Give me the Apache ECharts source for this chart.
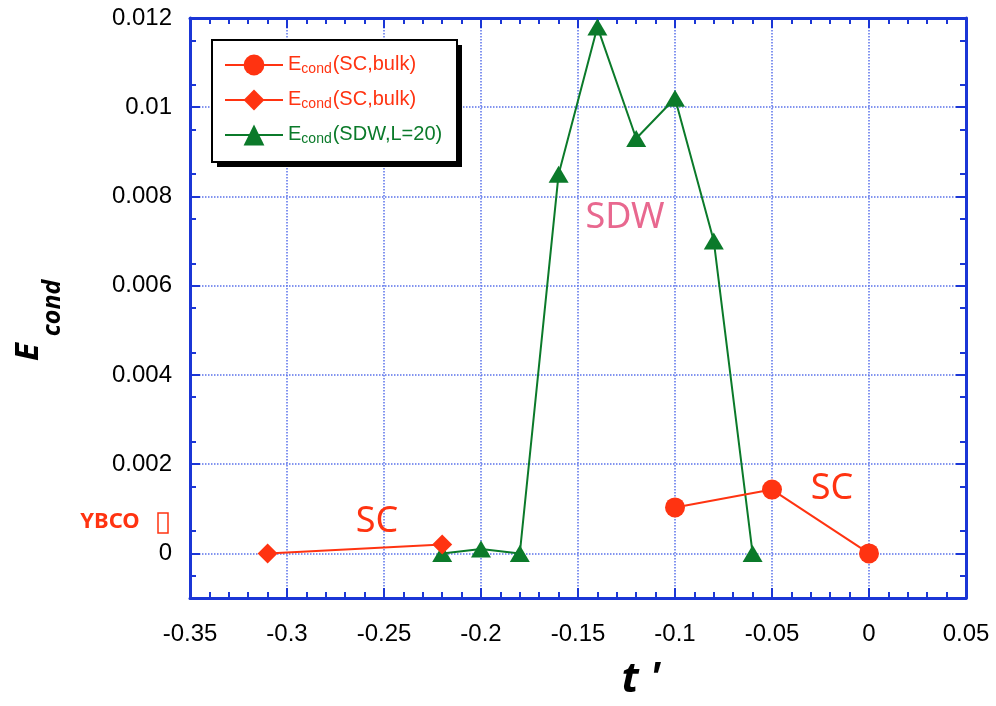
<!DOCTYPE html>
<html>
<head>
<meta charset="utf-8">
<title>Econd vs t'</title>
<script src="https://cdn.jsdelivr.net/npm/echarts@6/dist/echarts.min.js"></script>
<style>
  html, body { margin: 0; padding: 0; background: #fff; }
  #chart { width: 996px; height: 706px; }
</style>
</head>
<body>
<div id="chart"></div>
<script>
// data
const scCircleX = [-0.1, -0.05, 0]
const scCircleY = [0.00103, 0.00143, 0]
const scDiamondX = [-0.31, -0.22]
const scDiamondY = [0, 0.0002]
const sdwX = [-0.22, -0.2, -0.18, -0.16, -0.14, -0.12, -0.1, -0.08, -0.06]
const sdwY = [0, 0.0001, 0, 0.0085, 0.0118, 0.0093, 0.0102, 0.007, 0]
const yTickValues = [0, 0.002, 0.004, 0.006, 0.008, 0.01, 0.012]
const legendNames = ['sc1', 'sc2', 'sdw']
const legendLabels = ['(SC,bulk)', '(SC,bulk)', '(SDW,L=20)']

const RED = '#ff3311'
const GREEN = '#0b7a2a'
const BLUE = '#1b36d6'
const GRID = '#5a72ea'
const FONT = 'Liberation Sans'

const zip = (xs, ys) => xs.map((x, i) => [x, ys[i]])

const fmtX = (v) => {
  const r = Math.round(v * 100) / 100
  return r === 0 ? '0' : String(r)
}
const fmtY = (v) => {
  const r = Math.round(v * 1000) / 1000
  return r === 0 ? '0' : String(r)
}

const baseX = {
  type: 'value',
  min: -0.35,
  max: 0.05,
  interval: 0.05,
  axisLine: { onZero: false, lineStyle: { color: BLUE, width: 3 } },
  axisTick: { inside: true, length: 10, lineStyle: { color: BLUE, width: 2 } },
  minorTick: { show: true, splitNumber: 5, length: 6, lineStyle: { color: BLUE, width: 2 } }
}

const baseY = {
  type: 'value',
  min: -0.001,
  max: 0.012,
  interval: 0.001,
  axisLine: { onZero: false, lineStyle: { color: BLUE, width: 3 } },
  axisTick: { inside: true, length: 10, customValues: yTickValues, lineStyle: { color: BLUE, width: 2 } },
  minorTick: { show: true, splitNumber: 2, length: 6, lineStyle: { color: BLUE, width: 2 } }
}

const titleFont = { fontFamily: 'Noto Sans', fontStyle: 'italic', fontWeight: 'bold', fill: '#000', align: 'center', verticalAlign: 'middle' }

const chart = echarts.init(document.getElementById('chart'))

const option = {
  animation: false,
  backgroundColor: '#fff',
  grid: { left: 190, right: 30, top: 18, bottom: 108 },
  xAxis: [
    {
      ...baseX,
      position: 'bottom',
      axisLabel: { color: '#000', fontFamily: FONT, fontSize: 24, margin: 24, formatter: fmtX },
      splitLine: { show: true, lineStyle: { color: GRID, type: 'dotted', width: 1.5 } }
    },
    {
      ...baseX,
      position: 'top',
      axisLabel: { show: false },
      splitLine: { show: false }
    }
  ],
  yAxis: [
    {
      ...baseY,
      position: 'left',
      axisLabel: { color: '#000', fontFamily: FONT, fontSize: 24, margin: 18, customValues: yTickValues, formatter: fmtY },
      splitLine: { show: true, lineStyle: { color: GRID, type: 'dotted', width: 1.5 } }
    },
    {
      ...baseY,
      position: 'right',
      axisLabel: { show: false },
      splitLine: { show: false }
    }
  ],
  legend: {
    orient: 'vertical',
    left: 219,
    top: 42,
    itemWidth: 58,
    itemHeight: 26,
    itemGap: 6,
    data: legendNames.map((n, i) => ({
      name: n,
      textStyle: { color: i < 2 ? RED : GREEN }
    })),
    formatter: (name) => '{e|E}{s|cond}{t|' + legendLabels[legendNames.indexOf(name)] + '}',
    textStyle: {
      fontFamily: FONT,
      fontSize: 20,
      rich: {
        e: { fontFamily: FONT, fontSize: 20, lineHeight: 22, verticalAlign: 'top' },
        s: { fontFamily: FONT, fontSize: 14, lineHeight: 14, verticalAlign: 'bottom', padding: [15, 1, 0, 0] },
        t: { fontFamily: FONT, fontSize: 20, lineHeight: 22, verticalAlign: 'top' }
      }
    }
  },
  graphic: [
    { type: 'rect', z: 3, shape: { x: 217, y: 45, width: 245, height: 122 }, style: { fill: '#000' } },
    { type: 'rect', z: 3, shape: { x: 212, y: 40, width: 245, height: 122 }, style: { fill: '#fff', stroke: '#000', lineWidth: 2 } },
    { type: 'text', z: 5, x: 625, y: 218, style: { text: 'SDW', fill: '#e8688f', fontFamily: 'Noto Sans', fontSize: 36, align: 'center', verticalAlign: 'middle' } },
    { type: 'text', z: 5, x: 377, y: 522, style: { text: 'SC', fill: RED, fontFamily: 'Noto Sans', fontSize: 36, align: 'center', verticalAlign: 'middle' } },
    { type: 'text', z: 5, x: 832, y: 489, style: { text: 'SC', fill: RED, fontFamily: 'Noto Sans', fontSize: 36, align: 'center', verticalAlign: 'middle' } },
    { type: 'text', z: 5, x: 110, y: 522, style: { text: 'YBCO', fill: RED, fontFamily: 'Noto Sans', fontWeight: 'bold', fontSize: 22, align: 'center', verticalAlign: 'middle' } },
    { type: 'rect', z: 5, shape: { x: 158, y: 513, width: 10, height: 20 }, style: { fill: 'none', stroke: RED, lineWidth: 1.5 } },
    { type: 'text', z: 5, x: 641, y: 680, style: { ...titleFont, text: "t '", fontSize: 42 } },
    { type: 'text', z: 5, x: 29, y: 352, rotation: Math.PI / 2, style: { ...titleFont, text: 'E', fontSize: 33 } },
    { type: 'text', z: 5, x: 53, y: 308, rotation: Math.PI / 2, style: { ...titleFont, text: 'cond', fontSize: 25 } }
  ],
  series: [
    {
      name: 'sc1',
      type: 'line',
      data: zip(scCircleX, scCircleY),
      symbol: 'circle',
      symbolSize: 20,
      lineStyle: { color: RED, width: 2 },
      itemStyle: { color: RED },
      z: 4
    },
    {
      name: 'sc2',
      type: 'line',
      data: zip(scDiamondX, scDiamondY),
      symbol: 'diamond',
      symbolSize: 20,
      lineStyle: { color: RED, width: 2 },
      itemStyle: { color: RED },
      z: 4
    },
    {
      name: 'sdw',
      type: 'line',
      data: zip(sdwX, sdwY),
      symbol: 'triangle',
      symbolSize: [20, 17],
      lineStyle: { color: GREEN, width: 2 },
      itemStyle: { color: GREEN },
      z: 3
    }
  ]
}

chart.setOption(option)
window.addEventListener('resize', () => chart.resize())
</script>
</body>
</html>
